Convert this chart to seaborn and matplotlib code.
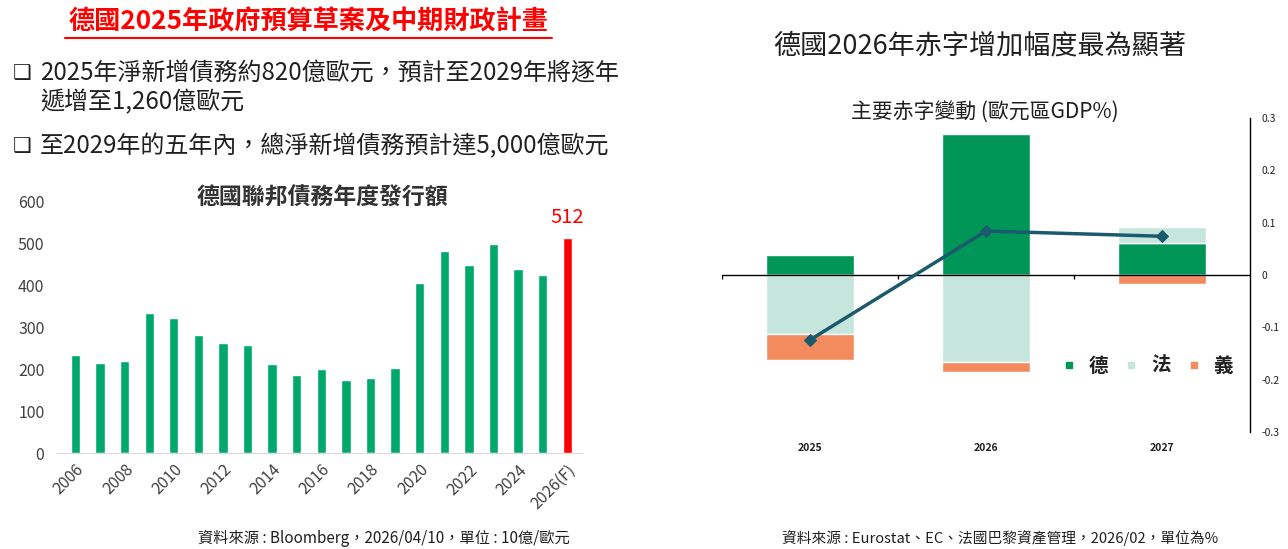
import numpy as np
import matplotlib
matplotlib.use("Agg")
import matplotlib.pyplot as plt
from matplotlib.lines import Line2D
import seaborn as sns

# --- data ---
years = ['2006', '2007', '2008', '2009', '2010', '2011', '2012', '2013', '2014', '2015',
         '2016', '2017', '2018', '2019', '2020', '2021', '2022', '2023', '2024', '2025', '2026(F)']
issuance = [234, 215, 220, 334, 322, 281, 262, 258, 212, 186,
            201, 174, 179, 203, 405, 481, 448, 498, 438, 424, 512]
left_yticks = [0, 100, 200, 300, 400, 500, 600]

deficit_years = ['2025', '2026', '2027']
germany = [0.039, 0.269, 0.062]
france = [-0.112, -0.167, 0.030]
italy = [-0.051, -0.018, -0.018]
countries = ['德', '法', '義']
right_yticks = [-0.3, -0.2, -0.1, 0, 0.1, 0.2, 0.3]
right_ylabels = ['-0.3', '-0.2', '-0.1', '0', '0.1', '0.2', '0.3']

sns.set_style("white")
plt.rcParams['font.family'] = ['Noto Sans CJK TC', 'DejaVu Sans']

fig = plt.figure(figsize=(12.88, 5.49), dpi=100)

# --- header texts ---
fig.text(308 / 1288, 1 - 22 / 549, '德國2025年政府預算草案及中期財政計畫', color='#ff0000',
         fontsize=18.8, fontweight='bold', ha='center', va='center')
fig.add_artist(Line2D([65 / 1288, 552 / 1288], [1 - 38 / 549, 1 - 38 / 549], color='#ff0000', lw=1.5))

bullet_font = ['DejaVu Sans']
for ypx in [73, 146]:
    fig.text(13 / 1288, 1 - ypx / 549, '❑', family=bullet_font, fontsize=15, color='#202020',
             ha='left', va='center', fontweight='bold')
fig.text(40 / 1288, 1 - 73 / 549, '2025年淨新增債務約820億歐元，預計至2029年將逐年',
         fontsize=17.3, fontweight='medium', color='#202020', ha='left', va='center')
fig.text(40 / 1288, 1 - 102 / 549, '遞增至1,260億歐元',
         fontsize=17.3, fontweight='medium', color='#202020', ha='left', va='center')
fig.text(40 / 1288, 1 - 146 / 549, '至2029年的五年內，總淨新增債務預計達5,000億歐元',
         fontsize=17.3, fontweight='medium', color='#202020', ha='left', va='center')

fig.text(980 / 1288, 1 - 46 / 549, '德國2026年赤字增加幅度最為顯著',
         fontsize=19.5, fontweight='medium', color='#202020', ha='center', va='center')
fig.text(985 / 1288, 1 - 113 / 549, '主要赤字變動 (歐元區GDP%)',
         fontsize=15, fontweight='medium', color='#202020', ha='center', va='center')

fig.text(570 / 1288, 1 - 538 / 549, '資料來源 : Bloomberg，2026/04/10，單位 : 10億/歐元',
         fontsize=11, color='#202020', ha='right', va='center')
fig.text(1000 / 1288, 1 - 538 / 549, '資料來源 : Eurostat、EC、法國巴黎資產管理，2026/02，單位為%',
         fontsize=10.6, color='#202020', ha='center', va='center')

# --- left chart: annual issuance ---
ax1 = fig.add_axes([57 / 1288, 96 / 549, 525 / 1288, 252 / 549])
bar_colors = ['#00a86b'] * (len(years) - 1) + ['#ff0000']
sns.barplot(x=years, y=issuance, hue=years, palette=bar_colors, legend=False,
            width=0.38, saturation=1, ax=ax1)
ax1.set_ylim(0, 600)
ax1.set_xlim(-0.75, len(years) - 0.4)
ax1.set_yticks(left_yticks)
ax1.set_yticklabels([str(v) for v in left_yticks], fontsize=11.5, color='#404040')
ax1.set_xticks(range(0, len(years), 2))
ax1.set_xticklabels(years[::2], rotation=45, ha='right', va='top', rotation_mode='anchor',
                    fontsize=11.5, color='#404040')
ax1.tick_params(axis='y', length=0, pad=9)
ax1.tick_params(axis='x', length=0, pad=6)
for s in ['top', 'left', 'right']:
    ax1.spines[s].set_visible(False)
ax1.spines['bottom'].set_color('#d9d9d9')
ax1.annotate(str(issuance[-1]), (len(years) - 1, issuance[-1]), xytext=(0, 7),
             textcoords='offset points', ha='center', va='bottom', color='#ff0000', fontsize=14.5)
ax1.text(0.505, 1.01, '德國聯邦債務年度發行額', transform=ax1.transAxes, ha='center', va='center',
         fontsize=16.5, fontweight='bold', color='#333333')

# --- right chart: deficit changes ---
ax2 = fig.add_axes([722 / 1288, 117 / 549, 528 / 1288, 314 / 549])
series = np.array([germany, france, italy])
colors = ['#009658', '#c6e6dd', '#f28b5e']
pos_base = np.zeros(3)
neg_base = np.zeros(3)
xpos = np.arange(3)
for vals, c, name in zip(series, colors, countries):
    bottom = np.where(vals >= 0, pos_base, neg_base)
    ax2.bar(xpos, vals, bottom=bottom, width=0.5, color=c, label=name, zorder=2)
    pos_base = pos_base + np.clip(vals, 0, None)
    neg_base = neg_base + np.clip(vals, None, 0)
totals = series.sum(axis=0)
sns.lineplot(x=xpos, y=totals, marker='D', markersize=6, color='#1b5a6c', lw=2.5,
             markeredgecolor='#1b5a6c', ax=ax2, zorder=4)
ax2.axhline(0, color='black', lw=1, zorder=3)
ax2.vlines([-0.5, 0.5, 1.5], -0.008, 0, color='black', lw=1, zorder=3)
ax2.set_xlim(-0.5, 2.5)
ax2.set_ylim(-0.3, 0.3)
ax2.yaxis.tick_right()
ax2.set_yticks(right_yticks)
ax2.set_yticklabels(right_ylabels, fontsize=7.5, color='#202020')
ax2.set_xticks(xpos)
ax2.set_xticklabels(deficit_years, fontsize=7.5, fontweight='bold', color='#202020')
ax2.tick_params(length=0, pad=8)
for s in ['top', 'left', 'bottom']:
    ax2.spines[s].set_visible(False)
ax2.spines['right'].set_color('black')
ax2.spines['right'].set_linewidth(1)

handles = [Line2D([], [], marker='s', ls='', color=c, markersize=5) for c in colors]
leg = ax2.legend(handles, countries, loc='center', bbox_to_anchor=(0.805, 0.21), ncol=3,
                 frameon=False, handletextpad=0.6, columnspacing=0.8, handlelength=0.8,
                 prop={'size': 14, 'weight': 'bold'})
for t in leg.get_texts():
    t.set_color('#202020')

fig.savefig('out.png', dpi=100)
